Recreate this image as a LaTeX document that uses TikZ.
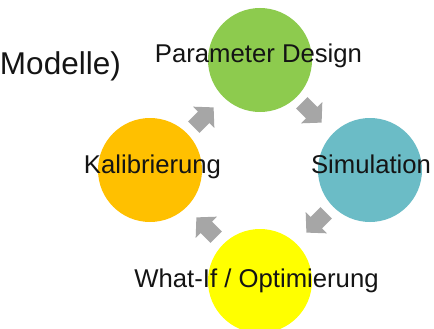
\documentclass[tikz,border=0pt]{standalone}
\usepackage{fontspec}
\setmainfont{Liberation Sans}
\definecolor{cgreen}{HTML}{8DCB4E}
\definecolor{corange}{HTML}{FFC000}
\definecolor{cteal}{HTML}{6BBCC6}
\definecolor{cyellow}{HTML}{FFFF00}
\definecolor{cgray}{HTML}{A6A6A6}
\definecolor{ctext}{HTML}{141414}
\tikzset{
  stage/.style={circle, minimum size=104pt, inner sep=0pt, fill=#1},
  label/.style={anchor=base, inner sep=0pt, text=ctext, font=\fontsize{25.7pt}{28pt}\selectfont},
  blockarrow/.pic={
    \fill[cgray] (-13,-8) -- (1,-8) -- (1,-15) -- (15,0) -- (1,15) -- (1,8) -- (-13,8) -- cycle;
  }
}
\begin{document}
\begin{tikzpicture}[x=1pt, y=-1pt]
  \useasboundingbox (0,0) rectangle (434,329);
  \clip (0,0) rectangle (434,329);
  \fill[white] (0,0) rectangle (434,329);

  % the four stages of the cycle
  \node[stage=cgreen]  (par) at (260,60)  {};
  \node[stage=cteal]   (sim) at (370,170) {};
  \node[stage=cyellow] (opt) at (260,281) {};
  \node[stage=corange] (kal) at (150,170) {};

  % arrows between the stages
  \pic[rotate=45]   at (203,118) {blockarrow};
  \pic[rotate=-45]  at (311,112) {blockarrow};
  \pic[rotate=-135] at (317,222) {blockarrow};
  \pic[rotate=135]  at (207,228) {blockarrow};

  % stage labels
  \node[label] (tpar) at (258.5,63) {Parameter Design};
  \node[label] (tsim) at (371,173)  {Simulation};
  \node[label] (topt) at (256.5,287) {What-If / Optimierung};
  \node[label] (tkal) at (152.5,173) {Kalibrierung};

  % trailing part of the heading on the left
  \node[anchor=base east, inner sep=0pt, text=ctext, font=\fontsize{31.5pt}{34pt}\selectfont] (head) at (121,75) {Modelle)};
\end{tikzpicture}
\end{document}
